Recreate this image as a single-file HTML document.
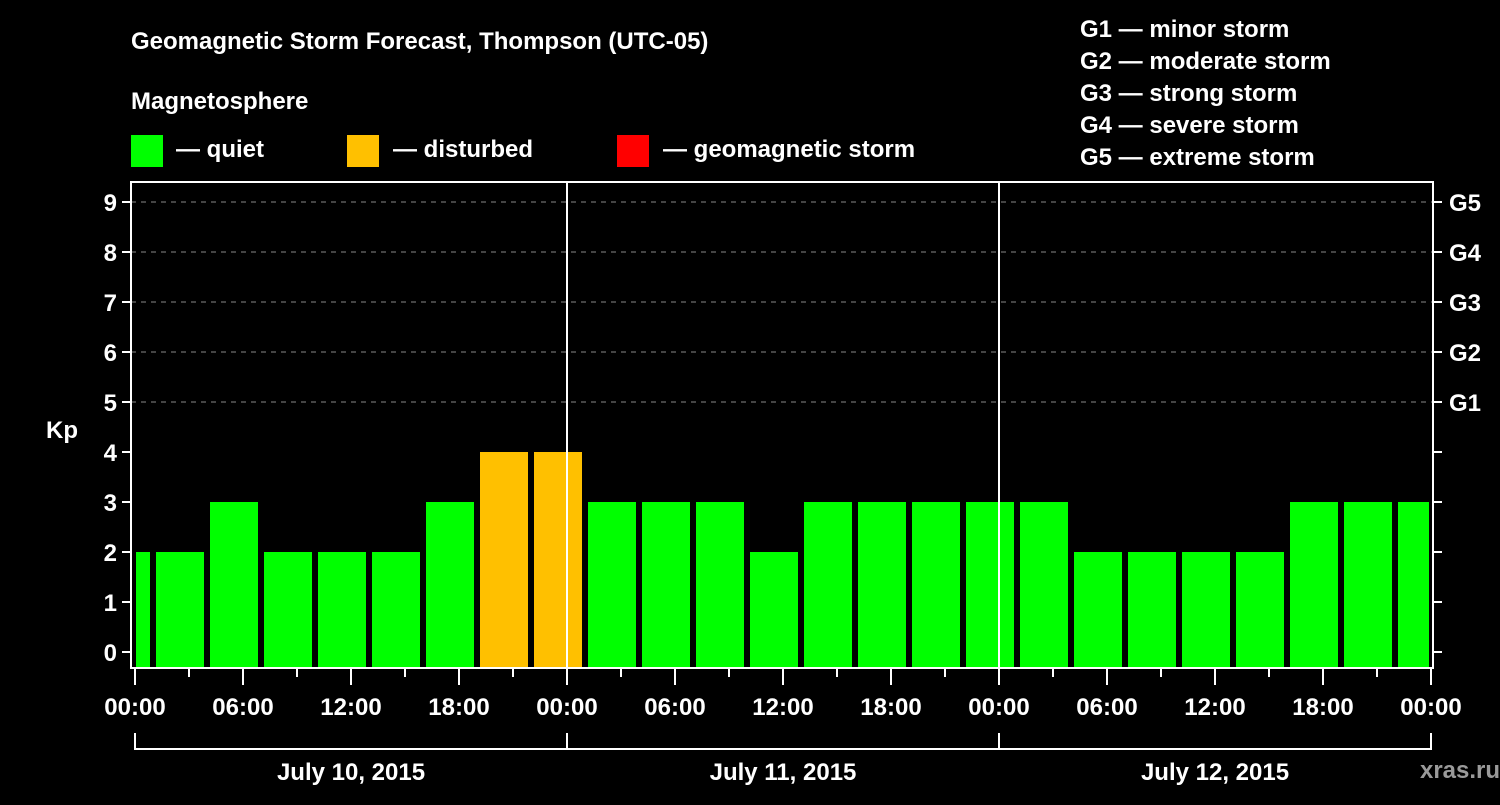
<!DOCTYPE html>
<html><head><meta charset="utf-8"><style>
body{margin:0;background:#000;}
svg text{font-family:"Liberation Sans",sans-serif;font-weight:bold;fill:#fff;}
</style></head><body>
<svg width="1500" height="800" viewBox="0 0 1500 800">
<rect width="1500" height="800" fill="#000"/>
<text x="131" y="49" font-size="24">Geomagnetic Storm Forecast, Thompson (UTC-05)</text>
<text x="131" y="109" font-size="24">Magnetosphere</text>
<g><rect x="131" y="135" width="32" height="32" fill="#00ff00"/><text x="176" y="157" font-size="24">— quiet</text></g>
<g><rect x="347" y="135" width="32" height="32" fill="#ffc000"/><text x="393" y="157" font-size="24">— disturbed</text></g>
<g><rect x="617" y="135" width="32" height="32" fill="#ff0000"/><text x="663" y="157" font-size="24">— geomagnetic storm</text></g>
<g font-size="24">
<text x="1080" y="37">G1 — minor storm</text>
<text x="1080" y="69">G2 — moderate storm</text>
<text x="1080" y="101">G3 — strong storm</text>
<text x="1080" y="133">G4 — severe storm</text>
<text x="1080" y="165">G5 — extreme storm</text>
</g>
<text x="62" y="438" font-size="24" text-anchor="middle">Kp</text>
<g id="grid"></g>
<g id="bars"></g>
<g id="axes"></g>
<text x="1460" y="778" font-size="24" text-anchor="middle" fill="#aaa" style="fill:#9a9a9a">xras.ru</text>
</svg>
<script>
const kpValues=[2,2,3,2,2,2,3,4,4,3,3,3,2,3,3,3,3,3,2,2,2,2,3,3,3];
const yTicks=[0,1,2,3,4,5,6,7,8,9];
const gLabels=["G1","G2","G3","G4","G5"];
const xTickLabels=["00:00","06:00","12:00","18:00","00:00","06:00","12:00","18:00","00:00","06:00","12:00","18:00","00:00"];
const dayLabels=["July 10, 2015","July 11, 2015","July 12, 2015"];
const startHour=-2;
const NS="http://www.w3.org/2000/svg";
const L=131,R=1433,T=182,B=668,X0=135,PXH=18;
const xs=h=>X0+h*PXH, ys=v=>652-v*50;
function mk(tag,attrs,parent,txt){const e=document.createElementNS(NS,tag);for(const k in attrs)e.setAttribute(k,attrs[k]);if(txt!==undefined)e.textContent=txt;document.getElementById(parent).appendChild(e);return e;}
yTicks.forEach(v=>{
 if(v>=5){const g=mk('line',{x1:L,x2:R,y1:ys(v),y2:ys(v),stroke:'#888','stroke-width':1,'stroke-dasharray':'5,5'},'grid');
 
 }
 const t=mk('line',{x1:122,x2:L,y1:ys(v),y2:ys(v),stroke:'#fff','stroke-width':2},'axes');
 
 
 const lb=mk('text',{x:117,y:ys(v)+9,'font-size':24,'text-anchor':'end'},'axes',String(v));
 
 
 const rt=mk('line',{x1:R,x2:1442,y1:ys(v),y2:ys(v),stroke:'#fff','stroke-width':2},'axes');
 
 
});
gLabels.forEach((g,i)=>{
 const lb=mk('text',{x:1449,y:ys(5+i)+9,'font-size':24},'axes',g);
 
 
});
kpValues.forEach((v,i)=>{
 let x1=xs(startHour+i*3)+3,x2=xs(startHour+i*3+3)-3;
 x1=Math.max(x1,L+5);x2=Math.min(x2,R-4);
 const c=v>=5?'#ff0000':(v>=4?'#ffc000':'#00ff00');
 const b=mk('rect',{x:x1,y:ys(v),width:x2-x1,height:B-1-ys(v),fill:c},'bars');
 
 
});
const fr=mk('rect',{x:L,y:T,width:R-L,height:B-T,fill:'none',stroke:'#fff','stroke-width':2},'axes');


for(let k=0;k<=24;k++){
 const major=k%2===0;
 const t=mk('line',{x1:xs(k*3),x2:xs(k*3),y1:B,y2:major?685:677,stroke:'#fff','stroke-width':2},'axes');
 
 
}
xTickLabels.forEach((s,i)=>{
 const lb=mk('text',{x:xs(i*6),y:715,'font-size':24,'text-anchor':'middle'},'axes',s);
 
 
});
const br=mk('line',{x1:xs(0),x2:xs(72),y1:749,y2:749,stroke:'#fff','stroke-width':2},'axes');


for(let d=0;d<=3;d++){
 const t=mk('line',{x1:xs(d*24),x2:xs(d*24),y1:733,y2:750,stroke:'#fff','stroke-width':2},'axes');
 
 
 if(d>0&&d<3){const v=mk('line',{x1:xs(d*24),x2:xs(d*24),y1:T,y2:B,stroke:'#fff','stroke-width':2},'axes');
 
 }
}
dayLabels.forEach((s,i)=>{
 const lb=mk('text',{x:xs(i*24+12),y:780,'font-size':24,'text-anchor':'middle'},'axes',s);
 
 
});
</script>
</body></html>
